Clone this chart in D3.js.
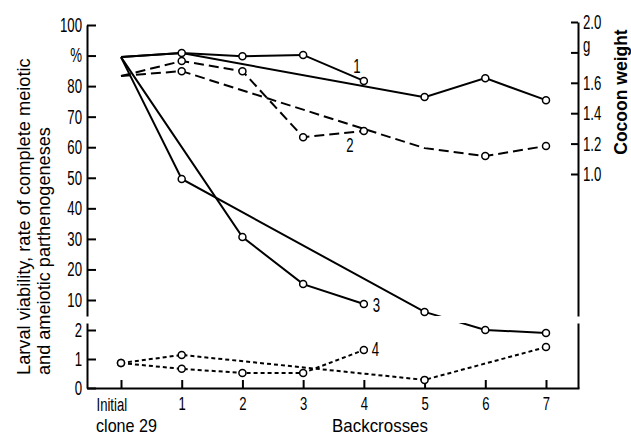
<!DOCTYPE html>
<html><head><meta charset="utf-8">
<script src="https://cdn.jsdelivr.net/npm/d3@7"></script>
<style>body{margin:0;background:#fff}</style>
</head><body><svg id="c" width="631" height="436"></svg>
<script>
// ---------- DATA ----------
const categories = ["Initial|clone 29","1","2","3","4","5","6","7"];
const xIndex = [0,1,2,3,4,5,6,7];
// values in % (left scale); values <= 2.5 are read on the lower 0-2 segment
const s1Short = [89.5, 90.8, 89.8, 90.2, 81.7, null, null, null];
const s1Long  = [89.5, 90.8, null, null, null, 76.4, 82.6, 75.4];
const s2Short = [83.3, 88.2, 84.9, 63.3, 65.3, null, null, null];
const s2Long  = [83.3, 84.9, null, null, null, 59.7, 57.1, 60.4];
const s3Short = [89.5, null, 30.6, 15.2, 8.7, null, null, null];
const s3Long  = [89.5, 49.6, null, null, null, 6.1, 2.0, 1.9];
const s4Short = [0.86, 0.66, 0.52, 0.52, 1.31, null, null, null];
const s4Long  = [0.86, 1.14, null, null, null, 0.28, null, 1.41];
// open-circle markers (1 = drawn)
const m1Short = [0,1,1,1,1,0,0,0];
const m1Long  = [0,0,0,0,0,1,1,1];
const m2Short = [0,1,1,1,1,0,0,0];
const m2Long  = [0,1,0,0,0,0,1,1];
const m3Short = [0,0,1,1,1,0,0,0];
const m3Long  = [0,1,0,0,0,1,1,1];
const m4Short = [1,1,1,1,1,0,0,0];
const m4Long  = [1,1,0,0,0,1,0,1];
const seriesLabels = ["1","2","3","4"];
const upperTicks = [100,90,80,70,60,50,40,30,20,10];
const upperTickLabels = ["100","%","80","70","60","50","40","30","20","10"];
const lowerTicks = [0,1,2];
const lowerTickLabels = ["0","1","2"];
const rightTicks = [2.0,1.8,1.6,1.4,1.2,1.0];
const rightTickLabels = ["2.0","g","1.6","1.4","1.2","1.0"];
const yTitle = ["Larval viability, rate of complete meiotic","and ameiotic parthenogeneses"];
const y2Title = "Cocoon weight";
const xTitle = "Backcrosses";

// ---------- SCALES ----------
const svg = d3.select("#c");
const FONT = "Liberation Sans, Arial, sans-serif";
const SX = 0.66;           // horizontal condensing for DIN-like lettering
const X0 = 87, X1 = 579, YB = 388, BR0 = 316, BR1 = 323;
const x = d3.scaleLinear().domain([0,7]).range([121,546]);
const yU = d3.scaleLinear().domain([10,100]).range([300,25]);
const yL = d3.scaleLinear().domain([0,2]).range([YB,330]);
const yR = d3.scaleLinear().domain([1.0,2.0]).range([174,22]);
const yv = v => v > 2.5 ? yU(v) : yL(v);

function condense(sel, size, sx){
  sel.attr("font-family", FONT).attr("font-size", size).attr("fill","#000")
    .each(function(){
      const t = d3.select(this);
      const xx = +t.attr("x") || 0;
      t.attr("x", xx/sx).attr("transform", `scale(${sx},1)`);
    });
}
function styleAxis(g){
  g.select(".domain").attr("stroke","#000").attr("stroke-width",2);
  g.selectAll(".tick line").attr("stroke","#000").attr("stroke-width",2);
}
// text squeezed to a given width
function fitText(parent, str, size, width, tf, anchor){
  const t = parent.append("text").attr("font-family",FONT).attr("font-size",size).text(str);
  const s = width / t.node().getComputedTextLength();
  t.attr("text-anchor",anchor).attr("transform",`${tf} scale(${s},1)`);
  return s;
}

// ---------- AXES ----------
const gLU = svg.append("g").attr("transform",`translate(${X0},0)`)
  .call(d3.axisLeft(yU.copy().domain([yU.invert(BR0),100]).range([BR0,25]))
    .tickValues(upperTicks).tickFormat((d,i)=>upperTickLabels[i])
    .tickSizeInner(-9).tickSizeOuter(0).tickPadding(5));
styleAxis(gLU); condense(gLU.selectAll("text"), 20, SX);
const gLL = svg.append("g").attr("transform",`translate(${X0},0)`)
  .call(d3.axisLeft(yL.copy().domain([0,yL.invert(BR1)]).range([YB,BR1]))
    .tickValues(lowerTicks).tickFormat((d,i)=>lowerTickLabels[i])
    .tickSizeInner(-9).tickSizeOuter(0).tickPadding(5));
styleAxis(gLL); condense(gLL.selectAll("text"), 20, SX);
const gRU = svg.append("g").attr("transform",`translate(${X1-1},0)`)
  .call(d3.axisRight(yR.copy().domain([yR.invert(BR0),2.0]).range([BR0,22]))
    .tickValues(rightTicks).tickFormat((d,i)=>rightTickLabels[i])
    .tickSizeInner(-7).tickSizeOuter(0).tickPadding(5));
styleAxis(gRU); condense(gRU.selectAll("text"), 20, SX);
gRU.selectAll(".tick text").filter((d,i)=>rightTickLabels[i]==="g").attr("y",-7);
const gRL = svg.append("g").attr("transform",`translate(${X1-1},0)`)
  .call(d3.axisRight(d3.scaleLinear().domain([0,1]).range([YB,BR1])).tickValues([]).tickSizeOuter(0));
styleAxis(gRL);
const gB = svg.append("g").attr("transform",`translate(0,${YB})`)
  .call(d3.axisBottom(x.copy().domain([x.invert(X0),x.invert(X1)]).range([X0,X1]))
    .tickValues(xIndex).tickFormat((d,i)=>categories[i].split("|")[0])
    .tickSizeInner(-8).tickSizeOuter(0).tickPadding(9));
styleAxis(gB);
condense(gB.selectAll("text"), 19, 0.69);
// first category: "Initial" on the tick row, "clone 29" below it, left-aligned
gB.selectAll(".tick").filter(d=>d===0).select("text").each(function(){
  const t = d3.select(this);
  t.text(categories[0].split("|")[0]).attr("text-anchor","start")
   .attr("y",23).attr("dy",null).attr("x",-25/0.69);
});
fitText(svg, categories[0].split("|")[1], 18, 61, `translate(96,432)`, "start");

// ---------- TITLES ----------
// two rotated lines, both starting at the same height (left-aligned when read)
fitText(svg, yTitle[0], 19, 317, `translate(30,375) rotate(-90)`, "start");
fitText(svg, yTitle[1], 19, 248, `translate(50,375) rotate(-90)`, "start");
svg.append("text").attr("font-family",FONT).attr("font-size",17.5).attr("font-weight","bold")
  .attr("text-anchor","middle").attr("transform",`translate(627,92) rotate(-90)`).text(y2Title);
fitText(svg, xTitle, 18, 96, `translate(380,432)`, "middle");

// ---------- SERIES ----------
const clip = svg.append("clipPath").attr("id","brk");
clip.append("rect").attr("x",0).attr("y",0).attr("width",631).attr("height",BR0);
clip.append("rect").attr("x",0).attr("y",BR1).attr("width",631).attr("height",436-BR1);

const series = [
  {vals:s1Short, marks:m1Short, dash:null},
  {vals:s1Long,  marks:m1Long,  dash:null},
  {vals:s2Short, marks:m2Short, dash:"10,5"},
  {vals:s2Long,  marks:m2Long,  dash:"10,5"},
  {vals:s3Short, marks:m3Short, dash:null},
  {vals:s3Long,  marks:m3Long,  dash:null},
  {vals:s4Short, marks:m4Short, dash:"4,3"},
  {vals:s4Long,  marks:m4Long,  dash:"4,3"}
];
const line = d3.line().x(d=>x(d.i)).y(d=>yv(d.v));
const gLines = svg.append("g").attr("clip-path","url(#brk)");
series.forEach(s=>{
  const pts = s.vals.map((v,i)=>({i,v,m:s.marks[i]})).filter(d=>d.v!==null);
  s.pts = pts;
  gLines.append("path").datum(pts).attr("d",line).attr("fill","none")
    .attr("stroke","#000").attr("stroke-width",2)
    .attr("stroke-dasharray",s.dash);
});
series.forEach(s=>{
  svg.append("g").selectAll("circle").data(s.pts.filter(d=>d.m)).join("circle")
    .attr("cx",d=>x(d.i)).attr("cy",d=>yv(d.v)).attr("r",3.5)
    .attr("fill","#fff").attr("stroke","#000").attr("stroke-width",1.5);
});
const labelOffsets = [[-7,-8,"middle"],[-14,21,"middle"],[9,8,"start"],[8,6,"start"]];
[s1Short,s2Short,s3Short,s4Short].forEach((vals,k)=>{
  const last = vals.reduce((a,v,i)=>v!==null?i:a,0);
  const px = x(last)+labelOffsets[k][0], py = yv(vals[last])+labelOffsets[k][1];
  svg.append("text").attr("font-family",FONT).attr("font-size",20).attr("text-anchor",labelOffsets[k][2])
    .attr("transform",`translate(${px},${py}) scale(${SX},1)`).text(seriesLabels[k]);
});
</script></body></html>
